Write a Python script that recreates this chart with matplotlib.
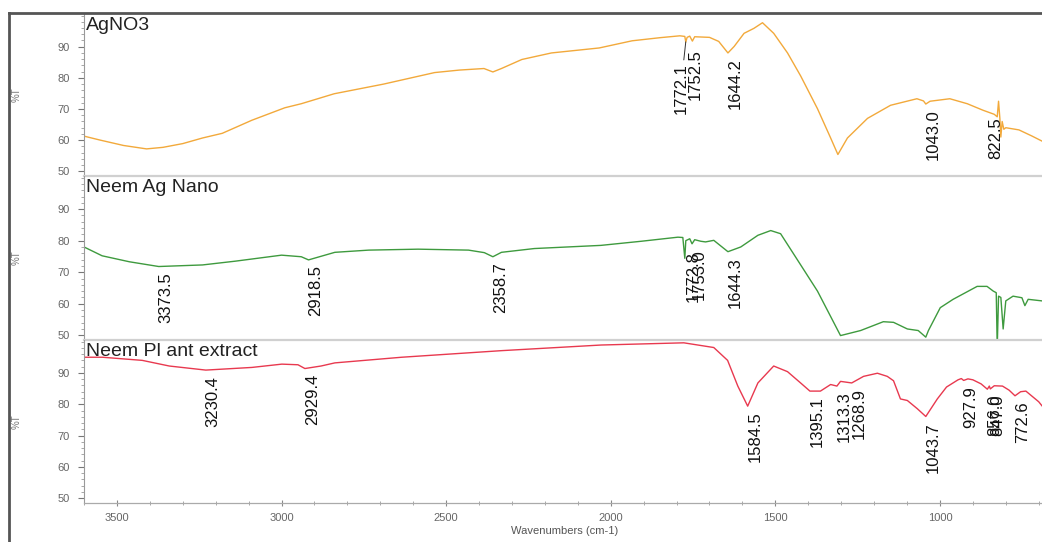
import numpy as np
import matplotlib
matplotlib.use("Agg")
import matplotlib.pyplot as plt
from matplotlib.lines import Line2D
from matplotlib.ticker import MultipleLocator

plt.rcParams['font.family'] = ['Liberation Sans', 'DejaVu Sans']

# ---------------- data ----------------
titles = ["AgNO3", "Neem Ag Nano", "Neem Pl ant extract"]

agno3_wn = [3600, 3550, 3480, 3410, 3360, 3300, 3240, 3180, 3090, 2990, 2940, 2840, 2690,
            2535, 2460, 2385, 2358, 2332, 2270, 2180, 2035, 1935, 1850, 1790, 1775, 1772,
            1768, 1760, 1752, 1745, 1700, 1672, 1644, 1625, 1595, 1565, 1539, 1505, 1463,
            1423, 1372, 1332, 1310, 1281, 1220, 1150, 1070, 1050, 1043, 1030, 1000, 970,
            917, 869, 835, 826, 822, 818, 815, 811, 806, 800, 760, 720, 690]
agno3_t = [61.3, 60.0, 58.3, 57.2, 57.7, 58.9, 60.7, 62.2, 66.4, 70.4, 71.7, 74.9, 78.0,
           81.7, 82.5, 83.0, 81.9, 83.0, 85.9, 88.0, 89.6, 91.9, 92.9, 93.5, 93.3, 91.5,
           93.0, 93.4, 91.8, 93.2, 93.0, 91.7, 88.0, 90.1, 94.3, 95.9, 97.7, 94.3, 88.0,
           80.6, 70.1, 60.7, 55.4, 60.7, 67.0, 71.2, 73.3, 72.6, 71.6, 72.5, 72.9, 73.3,
           71.7, 69.6, 68.3, 67.5, 72.5, 67.0, 61.0, 66.0, 63.5, 64.0, 63.3, 61.3, 59.7]
agno3_peaks = [1772.1, 1752.5, 1644.2, 1043.0, 822.5]

nano_wn = [3600, 3545, 3462, 3373, 3240, 3140, 3000, 2940, 2918, 2838, 2735, 2585, 2432,
           2384, 2358, 2332, 2232, 2030, 1908, 1796, 1781, 1775, 1772, 1760, 1753, 1745,
           1726, 1712, 1687, 1644, 1605, 1553, 1514, 1484, 1423, 1372, 1302, 1241, 1172,
           1141, 1099, 1066, 1043, 1035, 999, 960, 887, 857, 838, 829, 826, 822, 815,
           808, 800, 778, 751, 742, 732, 690]
nano_t = [78.0, 75.2, 73.3, 71.8, 72.3, 73.5, 75.4, 74.9, 73.9, 76.3, 77.0, 77.3, 77.0,
          76.2, 74.9, 76.3, 77.5, 78.5, 79.8, 81.1, 81.0, 74.4, 80.0, 80.6, 79.0, 80.3,
          79.8, 79.6, 80.1, 76.5, 78.0, 81.7, 83.2, 82.2, 72.3, 64.0, 49.9, 51.5, 54.3,
          54.1, 52.0, 51.5, 49.4, 51.5, 58.75, 61.4, 65.5, 65.5, 64.0, 63.5, 46.0, 62.4,
          62.0, 52.0, 60.9, 62.4, 61.9, 59.4, 61.4, 60.9]
nano_peaks = [3373.5, 2918.5, 2358.7, 1772.8, 1753.0, 1644.3]

plant_wn = [3600, 3544, 3423, 3341, 3230, 3090, 2999, 2950, 2929, 2880, 2838, 2635, 2332,
            2029, 1778, 1687, 1645, 1614, 1584, 1553, 1505, 1463, 1420, 1395, 1363, 1332,
            1313, 1302, 1268, 1232, 1190, 1160, 1141, 1120, 1099, 1069, 1043, 1008, 980,
            945, 935, 928, 915, 900, 875, 856, 850, 847, 835, 810, 790, 772, 755, 739, 700,
            690]
plant_t = [95.0, 95.0, 94.0, 92.2, 90.9, 91.75, 92.8, 92.6, 91.4, 92.2, 93.2, 95.0, 97.1,
           98.9, 99.6, 98.1, 94.0, 85.8, 79.4, 86.8, 92.2, 90.4, 86.5, 84.2, 84.2, 86.3,
           85.8, 87.3, 86.8, 88.9, 89.9, 88.9, 87.5, 81.7, 81.2, 78.6, 76.1, 81.7, 85.5,
           87.8, 88.2, 87.6, 88.1, 87.8, 86.5, 84.8, 85.8, 84.9, 85.9, 85.8, 84.5, 82.7,
           84.0, 84.2, 80.8, 79.5]
plant_peaks = [3230.4, 2929.4, 1584.5, 1395.1, 1313.3, 1268.9, 1043.7, 927.9, 856.0,
               847.0, 772.6]

x_major_ticks = [3500, 3000, 2500, 2000, 1500, 1000]
y_major_ticks = [50, 60, 70, 80, 90]

# ---------------- styling ----------------
colors = ["#F2A93B", "#3E9A3E", "#E8394F"]
W, H = 1042, 542
panels_px = [(14, 176), (176, 340), (340, 503)]   # top, bottom in pixels
left_px = 84
XLIM = (3600, 690)
YLIM = (48.5, 100.5)

# per-label text offsets in points (dx, dy) for crowded labels
label_offsets = {1772.1: (-9, -15, True), 1752.5: (-3.5, -6, False),
                 822.5: (-7, -10, False)}
default_off = (0, -4, False)

fig = plt.figure(figsize=(W / 100, H / 100), dpi=100)

series = [(agno3_wn, agno3_t, agno3_peaks),
          (nano_wn, nano_t, nano_peaks),
          (plant_wn, plant_t, plant_peaks)]

axes = []
for i, ((top, bot), (wn, t, peaks)) in enumerate(zip(panels_px, series)):
    ax = fig.add_axes([left_px / W, 1 - bot / H, (W - left_px) / W, (bot - top) / H])
    axes.append(ax)
    ax.plot(wn, t, color=colors[i], lw=1.0)
    ax.set_xlim(*XLIM)
    ax.set_ylim(*YLIM)
    for s in ("top", "right"):
        ax.spines[s].set_visible(False)
    ax.spines["left"].set_color("#9a9a9a")
    ax.spines["left"].set_linewidth(0.8)
    ax.set_yticks(y_major_ticks)
    ax.yaxis.set_minor_locator(MultipleLocator(2))
    ax.tick_params(axis="y", which="major", length=4, width=0.8, colors="#777",
                   labelsize=8, labelcolor="#666", pad=6)
    ax.tick_params(axis="y", which="minor", length=2, width=0.6, colors="#999")
    if i < 2:
        ax.spines["bottom"].set_color("#d0d0d0")
        ax.spines["bottom"].set_linewidth(1.6)
        ax.tick_params(axis="x", which="both", bottom=False, labelbottom=False)
    else:
        ax.spines["bottom"].set_color("#aaaaaa")
        ax.spines["bottom"].set_linewidth(0.9)
        ax.set_xticks(x_major_ticks)
        ax.xaxis.set_minor_locator(MultipleLocator(100))
        ax.tick_params(axis="x", which="major", direction="inout", length=5, width=0.8,
                       colors="#888", labelsize=8, labelcolor="#666", pad=5)
        ax.tick_params(axis="x", which="minor", direction="inout", length=3, width=0.6,
                       colors="#999")
    ax.patch.set_alpha(0)

    ax.annotate(titles[i], xy=(0, 1), xycoords="axes fraction", xytext=(1.5, -2),
                textcoords="offset points", ha="left", va="top", fontsize=14,
                color="#222")

    order = np.argsort(wn)
    wn_s = np.asarray(wn, float)[order]
    t_s = np.asarray(t, float)[order]
    for p in peaks:
        yv = float(np.interp(p, wn_s, t_s))
        dx, dy, leader = label_offsets.get(p, default_off) if i == 0 else default_off
        kw = {}
        if leader:
            kw["arrowprops"] = dict(arrowstyle="-", color="#333", lw=0.7,
                                    shrinkA=0, shrinkB=0)
        ax.annotate(f"{p:.1f}", xy=(p, yv), xytext=(dx, dy), textcoords="offset points",
                    rotation=90, ha="left", va="top", fontsize=12, color="#111",
                    annotation_clip=False, **kw)

    fig.text(17 / W, 1 - ((top + bot) / 2) / H, "%T", rotation=90, ha="center",
             va="center", fontsize=7, color="#777")

fig.text(565 / W, 1 - 531 / H, "Wavenumbers (cm-1)", ha="center", va="center",
         fontsize=8, color="#555")

# screenshot frame
fig.add_artist(Line2D([9 / W, 9 / W], [0, 1 - 13 / H], color="#555", lw=2.0,
                      transform=fig.transFigure))
fig.add_artist(Line2D([9 / W, 1], [1 - 13 / H, 1 - 13 / H], color="#555", lw=2.0,
                      transform=fig.transFigure))

fig.savefig("out.png", dpi=100, facecolor="white")
